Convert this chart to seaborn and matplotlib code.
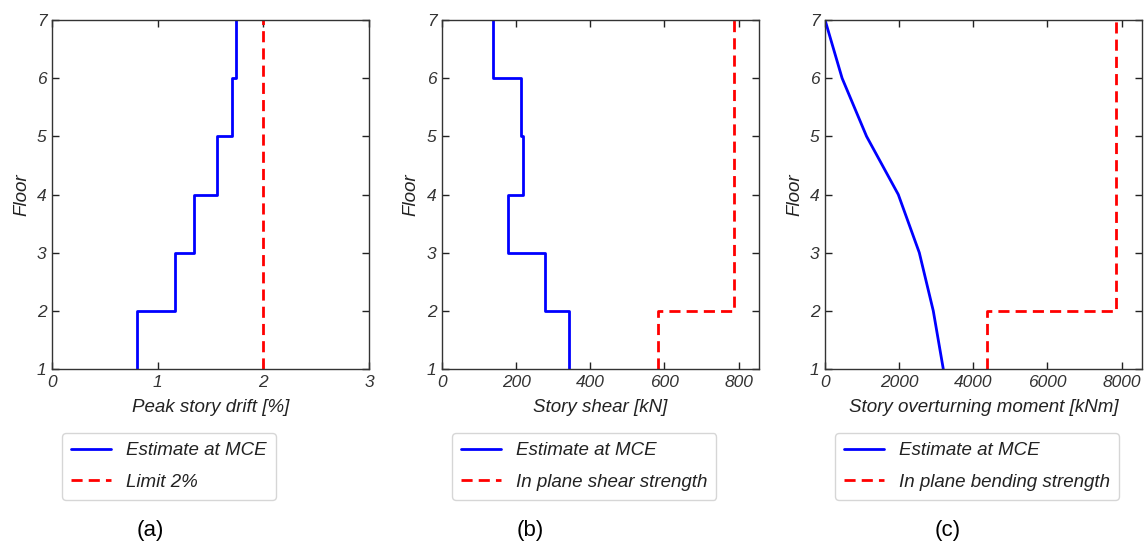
import numpy as np
import pandas as pd
import matplotlib
matplotlib.use("Agg")
import matplotlib.pyplot as plt
import seaborn as sns

# floors 1..7, story values between floor i and i+1
floors = [1, 2, 3, 4, 5, 6, 7]
drift_mce = [0.80, 1.16, 1.34, 1.56, 1.70, 1.74]
drift_limit = [2.0, 2.0, 2.0, 2.0, 2.0, 2.0]
shear_mce = [343, 278, 178, 219, 213, 138]
shear_strength = [584, 787, 787, 787, 787, 787]
moment_mce = [3190, 2920, 2543, 1976, 1120, 460, 0]
moment_strength = [4363, 7863, 7863, 7863, 7863, 7863]

panels = [
    dict(label="Peak story drift [%]", caption="(a)", xlim=(0, 3), xticks=[0, 1, 2, 3],
         mce=drift_mce, cap=drift_limit, cap_name="Limit 2%", step_mce=True),
    dict(label="Story shear [kN]", caption="(b)", xlim=(0, 855), xticks=[0, 200, 400, 600, 800],
         mce=shear_mce, cap=shear_strength, cap_name="In plane shear strength", step_mce=True),
    dict(label="Story overturning moment [kNm]", caption="(c)", xlim=(0, 8550),
         xticks=[0, 2000, 4000, 6000, 8000],
         mce=moment_mce, cap=moment_strength, cap_name="In plane bending strength", step_mce=False),
]

# layout (figure fractions)
lefts = [0.0455, 0.3864, 0.7212]
width = 0.277
caption_x = [150 / 1144, 530 / 1144, 948 / 1144]


def story_steps(values):
    # vertical segments per story, joined at floor levels
    xs, ys = [], []
    for i, v in enumerate(values):
        xs += [v, v]
        ys += [floors[i], floors[i + 1]]
    return pd.DataFrame({"x": xs, "y": ys})


sns.set_style("ticks")
plt.rcParams["font.family"] = ["Liberation Sans", "DejaVu Sans"]
plt.rcParams["font.style"] = "italic"

fig = plt.figure(figsize=(11.44, 5.47), dpi=100)

for p, left, cx in zip(panels, lefts, caption_x):
    ax = fig.add_axes([left, 0.3254, width, 0.638])
    if p["step_mce"]:
        d1 = story_steps(p["mce"])
    else:
        d1 = pd.DataFrame({"x": p["mce"], "y": floors})
    d2 = story_steps(p["cap"])
    sns.lineplot(data=d1, x="x", y="y", sort=False, estimator=None, ax=ax,
                 color="#0000ff", lw=2.0, label="Estimate at MCE")
    sns.lineplot(data=d2, x="x", y="y", sort=False, estimator=None, ax=ax,
                 color="#ff0000", lw=2.0, dashes=(4, 2.2), label=p["cap_name"])
    ax.set_xlim(*p["xlim"])
    ax.set_ylim(1, 7)
    ax.set_xticks(p["xticks"])
    ax.set_yticks(floors)
    ax.set_xlabel(p["label"], fontsize=13.5, color="#222222", style="italic", labelpad=7)
    ax.set_ylabel("Floor", fontsize=13.5, color="#222222", style="italic", labelpad=5)
    ax.tick_params(direction="in", top=True, right=True, length=5, width=1,
                   labelsize=12.5, labelcolor="#333333", color="#222222", pad=4)
    for s in ax.spines.values():
        s.set_color("#333333")
        s.set_linewidth(1.0)
    leg = ax.legend(loc="upper left", bbox_to_anchor=(0.031, -0.183), borderaxespad=0,
                    fontsize=13.5, handlelength=2.1, frameon=True, fancybox=True,
                    borderpad=0.5, labelspacing=0.75, handletextpad=0.8)
    leg.get_frame().set_edgecolor("#cccccc")
    for t in leg.get_texts():
        t.set_color("#222222")
    fig.text(cx, 0.031, p["caption"], fontsize=16, style="normal",
             ha="center", va="center", color="black")

fig.savefig("out.png", dpi=100)
